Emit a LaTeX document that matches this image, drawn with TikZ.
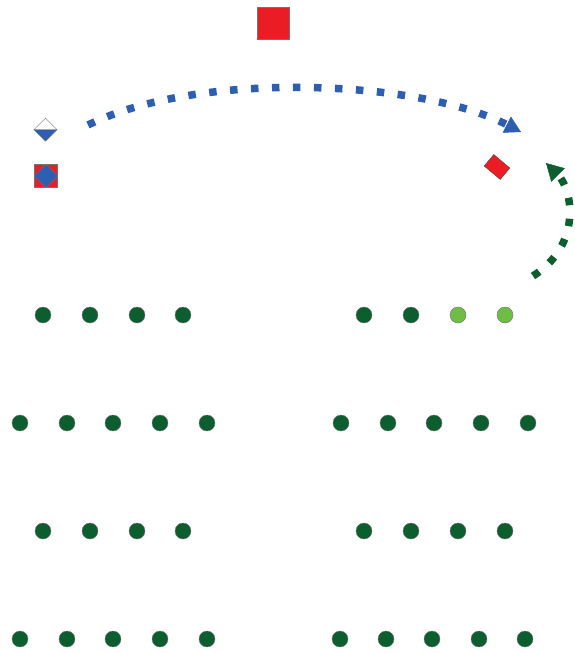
\documentclass[tikz,border=0pt]{standalone}
\usepackage{tikz}
\usetikzlibrary{arrows.meta,shapes.geometric}
\definecolor{FieldGreen}{RGB}{12,94,46}
\definecolor{LightGreen}{RGB}{110,190,70}
\definecolor{CoachBlue}{RGB}{46,94,178}
\definecolor{MarkerRed}{RGB}{236,28,36}

\begin{document}
\begin{tikzpicture}[x=1pt,y=-1pt,>=Latex,
    player/.style={circle,draw=black!55,line width=0.4pt,fill=FieldGreen,
                   minimum size=16pt,inner sep=0pt},
    runline/.style={line width=7.5pt,dash pattern=on 7.5pt off 13.5pt}]
  \useasboundingbox (0,0) rectangle (575,653);
  % markers at the top
  \node[draw=black!55,fill=MarkerRed,minimum size=32pt,inner sep=0pt] (cone) at (273,23) {};
  \node[diamond,draw=black!55,fill=white,minimum size=23pt,inner sep=0pt] (half) at (45.5,129.5) {};
  \fill[CoachBlue,draw=black!55,line width=0.4pt] (half.west) -- (half.east) -- (half.south) -- cycle;
  \node[draw=black!55,fill=MarkerRed,minimum size=23pt,inner sep=0pt] (box) at (46,176) {};
  \fill[CoachBlue,draw=black!55,line width=0.4pt] (box.north) -- (box.east) -- (box.south) -- (box.west) -- cycle;
  \node[draw=black!70,fill=MarkerRed,minimum width=21pt,minimum height=15pt,
        inner sep=0pt,rotate=-40] (mark) at (497,167) {};

  % runs
  \coordinate (blueA) at (88,125);
  \coordinate (blueB) at (521,132);
  \draw[CoachBlue,runline,-{Triangle[length=16pt,width=18pt,line width=0.5pt]}]
    (blueA) .. controls (200,70) and (420,80) .. (blueB);
  \coordinate (greenA) at (533,276);
  \coordinate (greenB) at (546,163);
  \draw[FieldGreen,runline,-{Triangle[length=17pt,width=19pt,line width=0.5pt]}]
    (greenA) .. controls (582,245) and (573,190) .. (greenB);

  % players
  \foreach \x [count=\i] in {43,90,137,183}
    \node[player] (a\i) at (\x,315) {};
  \node[player] (b1) at (364,315) {};
  \node[player] (b2) at (411,315) {};
  \node[player,fill=LightGreen] (b3) at (458,315) {};
  \node[player,fill=LightGreen] (b4) at (505,315) {};

  \foreach \x [count=\i] in {20,67,113,160,207}
    \node[player] (c\i) at (\x,423) {};
  \foreach \x [count=\i] in {341,388,434,481,528}
    \node[player] (d\i) at (\x,423) {};

  \foreach \x [count=\i] in {43,90,137,183}
    \node[player] (e\i) at (\x,531) {};
  \foreach \x [count=\i] in {364,411,458,505}
    \node[player] (f\i) at (\x,531) {};

  \foreach \x [count=\i] in {20,67,113,160,207}
    \node[player] (g\i) at (\x,639) {};
  \foreach \x [count=\i] in {340,386,432,479,525}
    \node[player] (h\i) at (\x,639) {};
\end{tikzpicture}
\end{document}
